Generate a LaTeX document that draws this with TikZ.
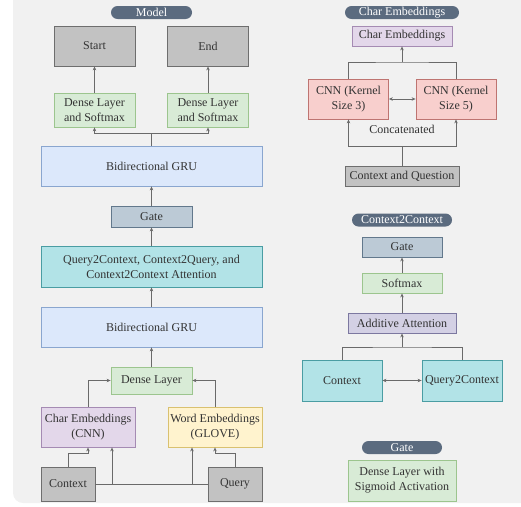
\documentclass[tikz,border=0pt]{standalone}
\usepackage{fontspec}
\setmainfont{Liberation Serif}
\usetikzlibrary{arrows.meta}

\definecolor{panelgray}{HTML}{F1F1F1}
\definecolor{inkgray}{HTML}{333333}
\definecolor{linegray}{HTML}{6A6A6A}
\definecolor{pillfill}{HTML}{5B6B7F}
\definecolor{grayfill}{HTML}{C2C2C2}
\definecolor{graydraw}{HTML}{6E6E6E}
\definecolor{greenfill}{HTML}{D8EBD6}
\definecolor{greendraw}{HTML}{9CC58E}
\definecolor{bluefill}{HTML}{DCE8FB}
\definecolor{bluedraw}{HTML}{8AA6CF}
\definecolor{gatefill}{HTML}{BCCAD6}
\definecolor{gatedraw}{HTML}{62788C}
\definecolor{tealfill}{HTML}{B2E3E7}
\definecolor{tealdraw}{HTML}{4A9DA3}
\definecolor{purplefill}{HTML}{E3D7EA}
\definecolor{purpledraw}{HTML}{A58BB3}
\definecolor{yellowfill}{HTML}{FFF3CE}
\definecolor{yellowdraw}{HTML}{D9C170}
\definecolor{redfill}{HTML}{F8CFCD}
\definecolor{reddraw}{HTML}{BE7471}
\definecolor{lavfill}{HTML}{D3D0E4}
\definecolor{lavdraw}{HTML}{7C78A0}

\tikzset{
  box/.style={draw, line width=0.8pt, align=center, inner sep=1pt, text=inkgray,
    font=\fontsize{12}{15}\selectfont},
  pill/.style={fill=pillfill, rounded corners=6.5pt, minimum height=13pt, inner sep=0pt,
    text=white, font=\fontsize{12}{13}\selectfont},
  graybox/.style={box, fill=grayfill, draw=graydraw},
  greenbox/.style={box, fill=greenfill, draw=greendraw},
  bluebox/.style={box, fill=bluefill, draw=bluedraw},
  gatebox/.style={box, fill=gatefill, draw=gatedraw},
  tealbox/.style={box, fill=tealfill, draw=tealdraw},
  purplebox/.style={box, fill=purplefill, draw=purpledraw},
  yellowbox/.style={box, fill=yellowfill, draw=yellowdraw},
  redbox/.style={box, fill=redfill, draw=reddraw},
  lavbox/.style={box, fill=lavfill, draw=lavdraw},
  line/.style={draw=linegray, line width=0.8pt},
  arr/.style={line, -{Stealth[length=4pt,width=3.5pt]}},
  dbl/.style={line, {Stealth[length=4pt,width=3.5pt]}-{Stealth[length=4pt,width=3.5pt]}},
}

\begin{document}
\begin{tikzpicture}[x=1pt, y=-1pt]
            % Draw the background panel
            \useasboundingbox (0,0) rectangle (521,506);
            \fill[panelgray] (521,0) -- (13,0) [rounded corners=10pt] -- (13,503) [sharp corners] -- (521,503) -- cycle;

            % Model (left column)
            \node[pill, minimum width=81pt] (modeltag) at (151.5,12.5) {Model};
            \node[graybox, minimum width=81pt, minimum height=40pt] (start) at (94.5,46) {Start};
            \node[graybox, minimum width=81pt, minimum height=40pt] (end) at (208,46) {End};
            \node[greenbox, minimum width=81pt, minimum height=34pt] (dense1) at (94.5,110) {Dense Layer\\and Softmax};
            \node[greenbox, minimum width=81pt, minimum height=34pt] (dense2) at (208,110) {Dense Layer\\and Softmax};
            \node[bluebox, minimum width=221pt, minimum height=40pt] (gru1) at (151.5,166) {Bidirectional GRU};
            \node[gatebox, minimum width=81pt, minimum height=21pt] (gate) at (151.5,216.5) {Gate};
            \node[tealbox, minimum width=221pt, minimum height=41pt] (attn) at (151.5,266.5) {Query2Context, Context2Query, and\\Context2Context Attention};
            \node[bluebox, minimum width=221pt, minimum height=40pt] (gru2) at (151.5,327) {Bidirectional GRU};
            \node[greenbox, minimum width=81pt, minimum height=27pt] (dense) at (151.5,380.5) {Dense Layer};
            \node[purplebox, minimum width=94pt, minimum height=40pt] (charemb) at (88,427) {Char Embeddings\\(CNN)};
            \node[yellowbox, minimum width=94pt, minimum height=40pt] (wordemb) at (215,427) {Word Embeddings\\(GLOVE)};
            \node[graybox, minimum width=54pt, minimum height=34pt] (context) at (68,484) {Context};
            \node[graybox, minimum width=54pt, minimum height=34pt] (query) at (235,484) {Query};

            % Connectors of the model
            \coordinate (split) at (151.5,133);
            \draw[line] (gru1.north) -- (split);
            \draw[arr] (split) -| (dense1.south);
            \draw[arr] (split) -| (dense2.south);
            \draw[arr] (dense1.north) -- (start.south);
            \draw[arr] (dense2.north) -- (end.south);
            \draw[arr] (gate.north) -- (gru1.south);
            \draw[arr] (attn.north) -- (gate.south);
            \draw[arr] (gru2.north) -- (attn.south);
            \draw[arr] (dense.north) -- (gru2.south);
            \draw[arr] (charemb.north) |- (dense.west);
            \draw[arr] (wordemb.north) |- (dense.east);
            \draw[arr] (context.north) -- ++(0,-13) -| (charemb.south);
            \draw[arr] (query.north) -- ++(0,-13) -| (wordemb.south);
            \draw[line] (context.east) -- (query.west);
            \coordinate (tapl) at (112,484);
            \coordinate (tapr) at (192,484);
            \draw[arr] (tapl) -- (tapl |- charemb.south);
            \draw[arr] (tapr) -- (tapr |- wordemb.south);

            % Char Embeddings (right, top)
            \node[pill, minimum width=114pt] (chartag) at (402,12.5) {Char Embeddings};
            \node[purplebox, minimum width=100pt, minimum height=20pt] (charout) at (402,36) {Char Embeddings};
            \node[redbox, minimum width=80pt, minimum height=40pt] (cnn3) at (348.5,99) {CNN (Kernel\\Size 3)};
            \node[redbox, minimum width=80pt, minimum height=40pt] (cnn5) at (456,99) {CNN (Kernel\\Size 5)};
            \node[text=inkgray, font=\fontsize{12}{15}\selectfont, inner sep=1pt] (concat) at (402,129) {Concatenated};
            \node[graybox, minimum width=114pt, minimum height=20pt] (ctxq) at (402,176) {Context and Question};

            \coordinate (cnntop) at (402,62);
            \coordinate (cnnbot) at (402,146);
            \draw[line] (cnn3.north) |- (cnntop) -| (cnn5.north);
            \draw[arr] (cnntop) -- (charout.south);
            \draw[dbl] (cnn3.east) -- (cnn5.west);
            \draw[line] (ctxq.north) -- (cnnbot);
            \draw[arr] (cnnbot) -| (cnn3.south);
            \draw[arr] (cnnbot) -| (cnn5.south);

            % Context2Context (right, middle)
            \node[pill, minimum width=100pt] (c2ctag) at (402,220) {Context2Context};
            \node[gatebox, minimum width=80pt, minimum height=20pt] (gate2) at (402,247) {Gate};
            \node[greenbox, minimum width=80pt, minimum height=20pt] (softmax) at (402,283) {Softmax};
            \node[lavbox, minimum width=108pt, minimum height=20pt] (additive) at (402,323) {Additive Attention};
            \node[tealbox, minimum width=80pt, minimum height=41pt] (ctx2) at (342,380.5) {Context};
            \node[tealbox, minimum width=80pt, minimum height=41pt] (q2c) at (462,380.5) {Query2Context};

            \coordinate (addjoin) at (402,347);
            \draw[line] (ctx2.north) |- (addjoin) -| (q2c.north);
            \draw[arr] (addjoin) -- (additive.south);
            \draw[arr] (additive.north) -- (softmax.south);
            \draw[arr] (softmax.north) -- (gate2.south);
            \draw[dbl] (ctx2.east) -- (q2c.west);

            % Gate (right, bottom)
            \node[pill, minimum width=80pt] (gatetag) at (402,447.5) {Gate};
            \node[greenbox, minimum width=108pt, minimum height=41pt] (sigmoid) at (402,480.5) {Dense Layer with\\Sigmoid Activation};
\end{tikzpicture}
\end{document}
